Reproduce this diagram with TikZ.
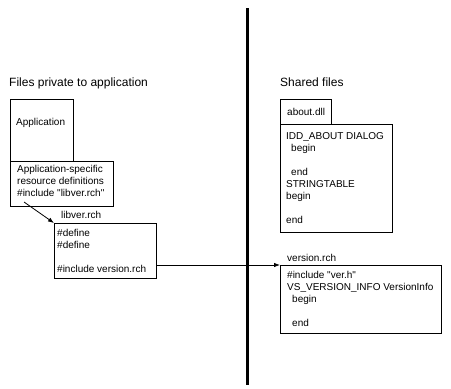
\documentclass[tikz,border=0pt]{standalone}
\usepackage{fontspec}
\setmainfont{Liberation Sans}[Ligatures=TeXOff]
\usetikzlibrary{arrows.meta}
\newcommand{\filefont}{\fontsize{10}{12}\selectfont}
\newcommand{\headfont}{\fontsize{12}{14}\selectfont}
\newcommand{\ind}{\hspace{5pt}}

\begin{document}
\begin{tikzpicture}[x=1pt, y=-1pt, >={Latex[length=6pt,width=4.5pt]}, font=\filefont,
	filebox/.style={draw, line width=0.8pt, anchor=north west, inner sep=0pt},
	filetext/.style={anchor=north west, align=left, inner sep=0pt},
	link/.style={->, line width=0.8pt}]
		\useasboundingbox (0,0) rectangle (451,389);
		\def\xd{247}  % position of the divider
		% headings
		\node[filetext, font=\headfont] (private) at (9,78) {Files private to application};
		\node[filetext, font=\headfont] (shared) at (280,78) {Shared files};
		% divider
		\draw[line width=3pt] (\xd,8) -- (\xd,385);
		% private files
		\node[filebox, minimum width=63pt, minimum height=62pt] (app) at (10,99) {};
		\node[filetext] (apptext) at (16,118) {Application};
		\node[filebox, minimum width=103pt, minimum height=45pt] (res) at (10,161) {};
		\node[filetext] (restext) at (17,165) {Application-specific\\resource definitions\\\#include "libver.rch"};
		\node[filetext] (libname) at (61,211) {libver.rch};
		\node[filebox, minimum width=102pt, minimum height=55pt] (lib) at (54,223) {};
		\node[filetext] (libtext) at (57,229) {\#define\\\#define\\\mbox{}\\\#include version.rch};
		% shared files
		\node[filebox, minimum width=51pt, minimum height=25pt] (about) at (280,99) {};
		\node[filetext] (abouttext) at (287,108) {about.dll};
		\node[filebox, minimum width=112pt, minimum height=108pt] (dlg) at (280,124) {};
		\node[filetext] (dlgtext) at (286,132) {IDD\_ABOUT DIALOG\\\ind begin\\\mbox{}\\\ind end\\STRINGTABLE\\begin\\\mbox{}\\end};
		\node[filetext] (vername) at (287,254) {version.rch};
		\node[filebox, minimum width=161pt, minimum height=68pt] (ver) at (280,265) {};
		\node[filetext] (vertext) at (287,271) {\#include "ver.h"\\VS\_VERSION\_INFO VersionInfo\\\ind begin\\\mbox{}\\\ind end};
		% includes
		\coordinate (inc) at (24,202);
		\draw[link] (inc) -- (lib.north west);
		\draw[link] ([yshift=-42pt]lib.north east) -- (ver.north west);
	\end{tikzpicture}
\end{document}
